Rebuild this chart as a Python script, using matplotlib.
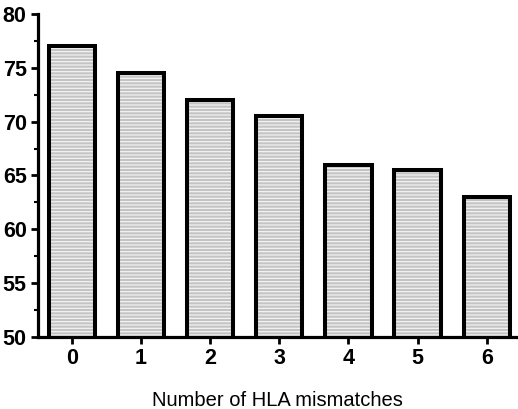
import matplotlib
matplotlib.use("Agg")
import matplotlib.pyplot as plt
import numpy as np
from matplotlib.ticker import MultipleLocator

mismatches = ["0", "1", "2", "3", "4", "5", "6"]
survival = [77, 74.5, 72, 70.5, 66, 65.5, 63]

plt.rcParams['font.family'] = ['Liberation Sans', 'DejaVu Sans']
plt.rcParams['hatch.linewidth'] = 0.9

fig = plt.figure(figsize=(5.18, 4.09), dpi=100)
ax = fig.add_axes([0.073, 0.176, 0.927, 0.79])

x = np.arange(len(mismatches))
# hatched fill first, then black outline on top
ax.bar(x, survival, width=0.67, bottom=0, color='#c4c4c4', edgecolor='#f2f2f2',
       hatch='-' * 5, linewidth=0, zorder=2)
ax.bar(x, survival, width=0.67, bottom=0, fill=False, edgecolor='black',
       linewidth=2.9, zorder=3)

ax.set_ylim(50, 80)
ax.set_xlim(-0.49, 6.45)
ax.set_xticks(x)
ax.set_xticklabels(mismatches, fontsize=15.5, fontweight='bold')
ax.yaxis.set_major_locator(MultipleLocator(5))
ax.yaxis.set_minor_locator(MultipleLocator(2.5))
for lab in ax.get_yticklabels():
    lab.set_fontsize(15.5)
    lab.set_fontweight('bold')

for s in ['top', 'right']:
    ax.spines[s].set_visible(False)
for s in ['left', 'bottom']:
    ax.spines[s].set_linewidth(2.3)

ax.tick_params(axis='both', which='major', length=5, width=2, pad=3)
ax.tick_params(axis='y', which='minor', length=3, width=1.5)
ax.tick_params(axis='x', which='minor', length=0)

ax.set_xlabel("Number of HLA mismatches", fontsize=14.5, labelpad=16)

fig.savefig("out.png", dpi=100)
